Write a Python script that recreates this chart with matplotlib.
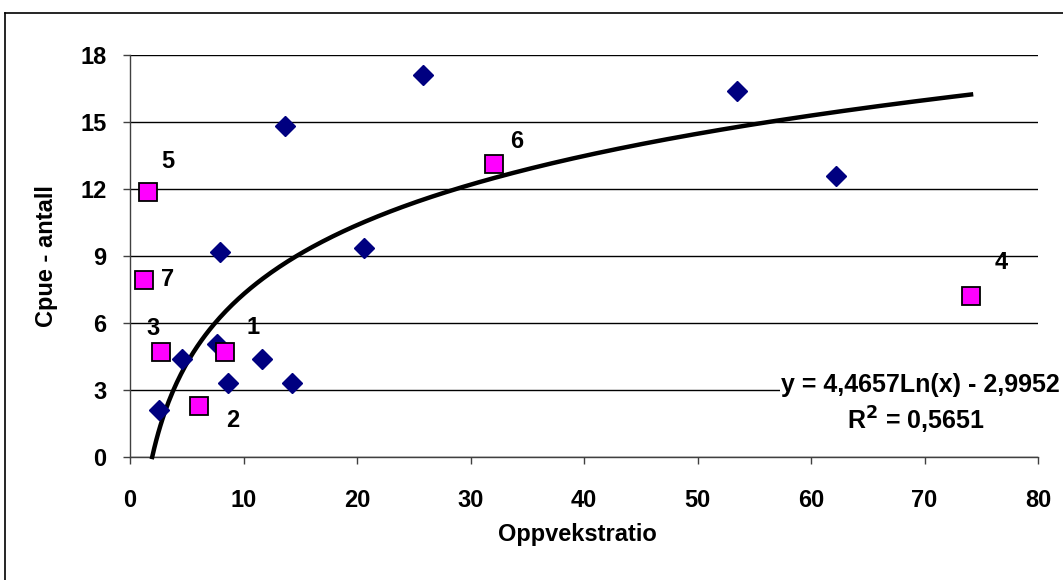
import numpy as np
import matplotlib
matplotlib.use("Agg")
import matplotlib.pyplot as plt
from matplotlib.lines import Line2D

plt.rcParams['font.family'] = ['Liberation Sans', 'DejaVu Sans']
plt.rcParams['font.weight'] = 'bold'

# Stations without number (navy diamonds)
x_other = [2.55, 4.55, 7.64, 8.6, 11.6, 14.25, 7.93, 13.7, 20.6, 25.8, 53.5, 62.2]
y_other = [2.1, 4.39, 5.06, 3.3, 4.39, 3.3, 9.19, 14.8, 9.36, 17.1, 16.4, 12.6]

# Numbered stations (magenta squares)
station_ids = ['1', '2', '3', '4', '5', '6', '7']
x_station = [8.37, 6.08, 2.7, 74.1, 1.6, 32.1, 1.23]
y_station = [4.69, 2.28, 4.69, 7.2, 11.88, 13.1, 7.93]

# Logarithmic trend fitted to all points
coef_a = 4.4657
coef_b = -2.9952
r_squared = 0.5651

x_ticks = [0, 10, 20, 30, 40, 50, 60, 70, 80]
y_ticks = [0, 3, 6, 9, 12, 15, 18]

W, H = 1063, 580
fig = plt.figure(figsize=(W / 100, H / 100), dpi=100)
ax = fig.add_axes([130 / W, 1 - 457 / H, (1038 - 130) / W, (457 - 55) / H])

ax.set_xlim(0, 80)
ax.set_ylim(0, 18)
ax.set_xticks(x_ticks)
ax.set_yticks(y_ticks)
ax.tick_params(labelsize=17, length=5, width=1, color='#404040')
ax.tick_params(axis='y', pad=12)
ax.tick_params(axis='x', pad=18)
for lab in ax.get_xticklabels() + ax.get_yticklabels():
    lab.set_fontweight('bold')

ax.yaxis.grid(True, color='black', linewidth=1)
ax.set_axisbelow(True)
for s in ('top', 'right'):
    ax.spines[s].set_visible(False)
for s in ('left', 'bottom'):
    ax.spines[s].set_color('#404040')
    ax.spines[s].set_linewidth(1)

# Trend line from where it crosses zero to the largest x
x0 = np.exp(-coef_b / coef_a)
xs = np.linspace(x0, max(x_other + x_station), 400)
ax.plot(xs, coef_a * np.log(xs) + coef_b, color='black', lw=3.2, zorder=3,
        clip_on=False)

ax.plot(x_other, y_other, linestyle='none', marker='D', ms=10.5,
        color='#000080', markeredgecolor='#000080', zorder=4, clip_on=False)
ax.plot(x_station, y_station, linestyle='none', marker='s', ms=13,
        markerfacecolor='#FF00FF', markeredgecolor='black', mew=1.3,
        zorder=5, clip_on=False)

# Station number labels (offset in pixels from each square)
offsets = {'1': (28, 25), '2': (34, -14), '3': (-8, 24), '4': (30, 34),
           '5': (20, 30), '6': (22, 23), '7': (24, 0)}
for sid, xv, yv in zip(station_ids, x_station, y_station):
    ax.annotate(sid, (xv, yv), xytext=offsets[sid], textcoords='offset pixels',
                ha='center', va='center', fontsize=17, fontweight='bold',
                zorder=6)

# Trend equation
eq = f"y = {coef_a:.4f}Ln(x) - {abs(coef_b):.4f}".replace('.', ',')
r2 = f"R$^2$ = {r_squared:.4f}".replace('.', ',')
fig.text(1060 / W, 1 - 385 / H, eq, ha='right', va='center', fontsize=18,
         fontweight='bold', bbox=dict(facecolor='white', edgecolor='none', pad=1))
fig.text(916 / W, 1 - 420 / H, r2, ha='center', va='center', fontsize=18,
         fontweight='bold')

# Axis titles
fig.text(577 / W, 1 - 535 / H, 'Oppvekstratio', ha='center', va='center',
         fontsize=17, fontweight='bold')
fig.text(46 / W, 1 - 256 / H, 'Cpue - antall', ha='center', va='center',
         rotation=90, fontsize=17, fontweight='bold')

# Chart border
fig.add_artist(Line2D([5 / W, 5 / W], [0, 1 - 13 / H], transform=fig.transFigure,
                      color='black', lw=1.2))
fig.add_artist(Line2D([5 / W, 1], [1 - 13 / H, 1 - 13 / H], transform=fig.transFigure,
                      color='black', lw=1.2))

fig.savefig('out.png', dpi=100, facecolor='white')
